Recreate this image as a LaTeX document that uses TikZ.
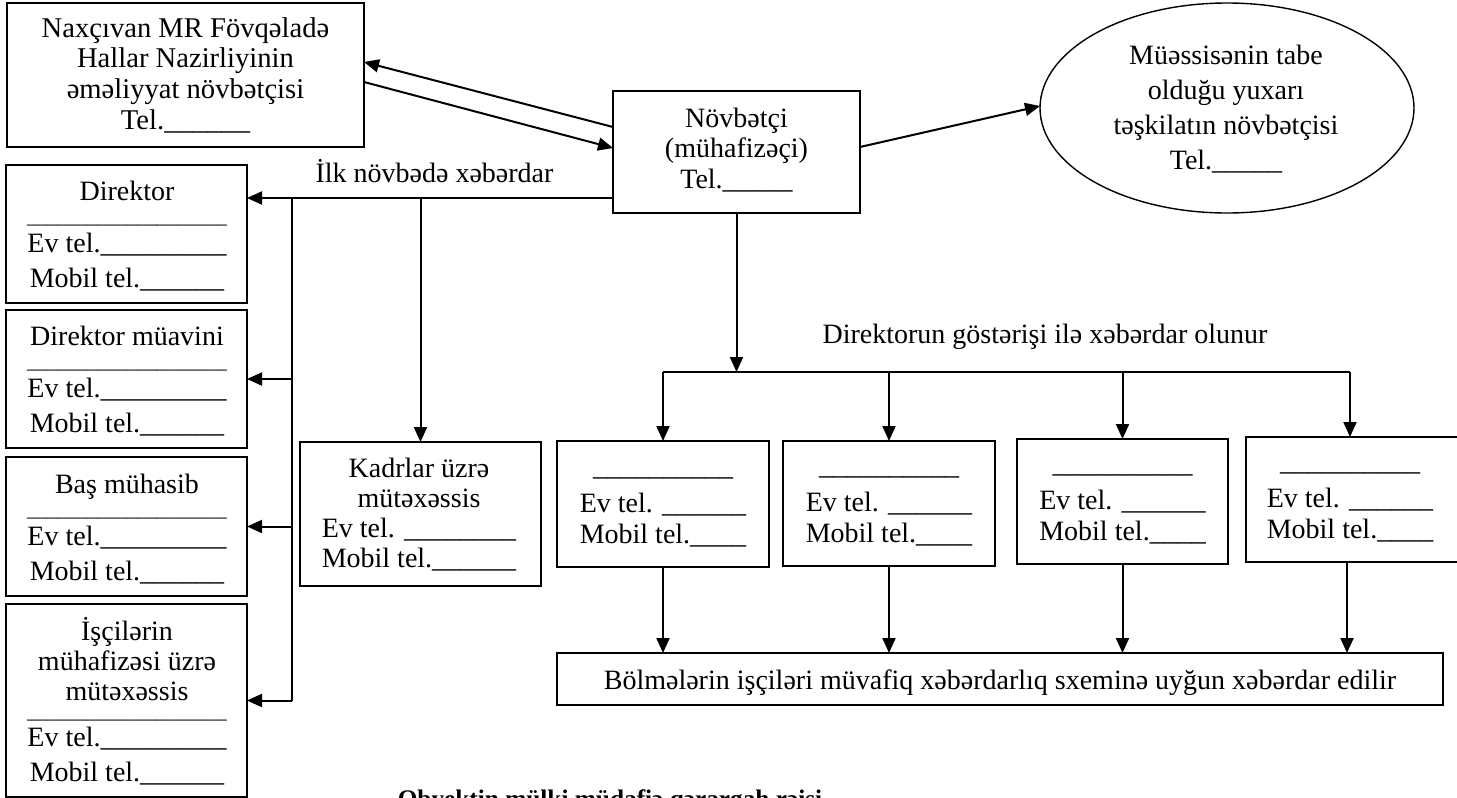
\documentclass[tikz,border=0pt]{standalone}
\usepackage{fontspec}
\setmainfont{Liberation Serif}
\usetikzlibrary{arrows.meta,shapes.geometric}
\newcommand{\U}[1]{\ifnum#1>0 \_\expandafter\U\expandafter{\the\numexpr#1-1\relax}\fi}
\newcommand{\st}{\rule{0pt}{13pt}}
\newcommand{\sepl}{{\fontsize{10}{10}\selectfont\U{20}}}
\begin{document}
\begin{tikzpicture}[x=0.5pt,y=-0.5pt,
  box/.style={draw, line width=1pt, inner sep=0pt, outer sep=0pt},
  txt/.style={inner sep=0pt, outer sep=0pt, align=center, font=\fontsize{14}{17.5}\selectfont},
  arr/.style={line width=1pt, -{Triangle[length=7.5pt,width=6.5pt]}},
  ln/.style={line width=1pt}]
\useasboundingbox (0,0) rectangle (1457,798);
\clip (0,0) rectangle (1457,798);

% boxes
\node[box, minimum width=178.5pt, minimum height=72pt] (nax) at (185.5,75) {};
\node[box, minimum width=123.5pt, minimum height=61pt] (nov) at (736.5,152) {};
\node[draw, ellipse, line width=0.7pt, inner sep=0pt, outer sep=0pt, minimum width=187pt, minimum height=105pt] (ell) at (1227,108) {};
\node[box, minimum width=120.5pt, minimum height=69pt] (dir) at (126.5,234) {};
\node[box, minimum width=120.5pt, minimum height=69pt] (dirm) at (126.5,379) {};
\node[box, minimum width=120.5pt, minimum height=69.5pt] (bas) at (126.5,526.5) {};
\node[box, minimum width=120.5pt, minimum height=96.5pt] (isc) at (126.5,700.5) {};
\node[box, minimum width=120.5pt, minimum height=72pt] (kad) at (420.5,514) {};
\node[box, minimum width=106pt, minimum height=63pt] (b1) at (663,504) {};
\node[box, minimum width=106pt, minimum height=62.5pt] (b2) at (889,503.5) {};
\node[box, minimum width=105.5pt, minimum height=62.5pt] (b3) at (1122.5,501.5) {};
\node[box, minimum width=108pt, minimum height=62.5pt] (b4) at (1354,499.5) {};
\node[box, minimum width=443pt, minimum height=26pt] (bot) at (1000,679) {};

% texts
\node[txt, anchor=north, font=\fontsize{14.3}{15.35}\selectfont] (naxt) at (185.5,11)
  {\st Naxçıvan MR Fövqəladə\\Hallar Nazirliyinin\\əməliyyat növbətçisi\\Tel.\U{6}};
\node[txt, anchor=north, font=\fontsize{14}{15.25}\selectfont] (novt) at (736.5,101)
  {\st Növbətçi\\(mühafizəçi)\\Tel.\U{5}};
\node[txt, anchor=north] (ellt) at (1226,38)
  {\st Müəssisənin tabe\\olduğu yuxarı\\təşkilatın növbətçisi\\Tel.\U{5}};
\node[txt, anchor=north] (dirt) at (127,174)
  {\st Direktor\\[-6pt]\sepl\\[-3pt]Ev tel.\U{9}\\Mobil tel.\U{6}};
\node[txt, anchor=north] (dirmt) at (127,319)
  {\st Direktor müavini\\[-6pt]\sepl\\[-3pt]Ev tel.\U{9}\\Mobil tel.\U{6}};
\node[txt, anchor=north] (bast) at (127,467)
  {\st Baş mühasib\\[-6pt]\sepl\\[-3pt]Ev tel.\U{9}\\Mobil tel.\U{6}};
\node[txt, anchor=north] (isct) at (127,614)
  {\st İşçilərin\\[-2.5pt]mühafizəsi üzrə\\[-2.5pt]mütəxəssis\\[-8.5pt]\sepl\\[-3.5pt]Ev tel.\U{9}\\Mobil tel.\U{6}};
\node[txt, anchor=north, font=\fontsize{14}{15.15}\selectfont] (kadt) at (419,451)
  {\st Kadrlar üzrə\\mütəxəssis\\Ev tel. \U{8}\\Mobil tel.\U{6}};
\node[txt, anchor=north, font=\fontsize{14}{15.5}\selectfont] (b1t) at (663,449)
  {\st\U{10}\\[3pt]Ev tel. \U{6}\\Mobil tel.\U{4}};
\node[txt, anchor=north, font=\fontsize{14}{15.5}\selectfont] (b2t) at (889,448)
  {\st\U{10}\\[3pt]Ev tel. \U{6}\\Mobil tel.\U{4}};
\node[txt, anchor=north, font=\fontsize{14}{15.5}\selectfont] (b3t) at (1122.5,446)
  {\st\U{10}\\[3pt]Ev tel. \U{6}\\Mobil tel.\U{4}};
\node[txt, anchor=north, font=\fontsize{14}{15.5}\selectfont] (b4t) at (1350,444)
  {\st\U{10}\\[3pt]Ev tel. \U{6}\\Mobil tel.\U{4}};
\node[txt, anchor=base] (bott) at (1000,689)
  {Bölmələrin işçiləri müvafiq xəbərdarlıq sxeminə uyğun xəbərdar edilir};
\node[txt, anchor=base] (ilk) at (434.5,182) {İlk növbədə xəbərdar};
\node[txt, anchor=base] (dgos) at (1045,343) {Direktorun göstərişi ilə xəbərdar olunur};
\node[txt, anchor=base, font=\bfseries\fontsize{12.65}{14}\selectfont] (chief) at (610,807)
  {Obyektin mülki müdafiə qərargah rəisi};

% connectors
\draw[arr] ([yshift=12.5pt]nov.west) -- ([yshift=6.5pt]nax.east);
\draw[arr] ([yshift=-3.5pt]nax.east) -- ([yshift=2pt]nov.west);
\draw[arr] ([yshift=2.5pt]nov.east) -- ([yshift=1pt]ell.west);

\coordinate (busT) at (292,198);
\draw[arr] ([yshift=-23pt]nov.west) -- ([yshift=18pt]dir.east);
\draw[ln] (busT) -- (busT |- isc.east);
\draw[arr] (busT |- dirm.east) -- (dirm.east);
\draw[arr] (busT |- bas.east) -- (bas.east);
\draw[arr] (busT |- isc.east) -- (isc.east);
\draw[arr] (kad.north |- busT) -- (kad.north);

\coordinate (hl) at (663,372);
\coordinate (hr) at (1350,372);
\draw[ln] (hl) -- (hr);
\draw[arr] (nov.south) -- (nov.south |- hl);
\draw[arr] (hl) -- (b1.north);
\draw[arr] (b2.north |- hl) -- (b2.north);
\draw[arr] (b3.north |- hl) -- (b3.north);
\draw[arr] (hr) -- (hr |- b4.north);

\draw[arr] (b1.south) -- (b1.south |- bot.north);
\draw[arr] (b2.south) -- (b2.south |- bot.north);
\draw[arr] (b3.south) -- (b3.south |- bot.north);
\draw[arr] ([xshift=-3.5pt]b4.south) -- ([xshift=-3.5pt]b4.south |- bot.north);
\end{tikzpicture}
\end{document}
